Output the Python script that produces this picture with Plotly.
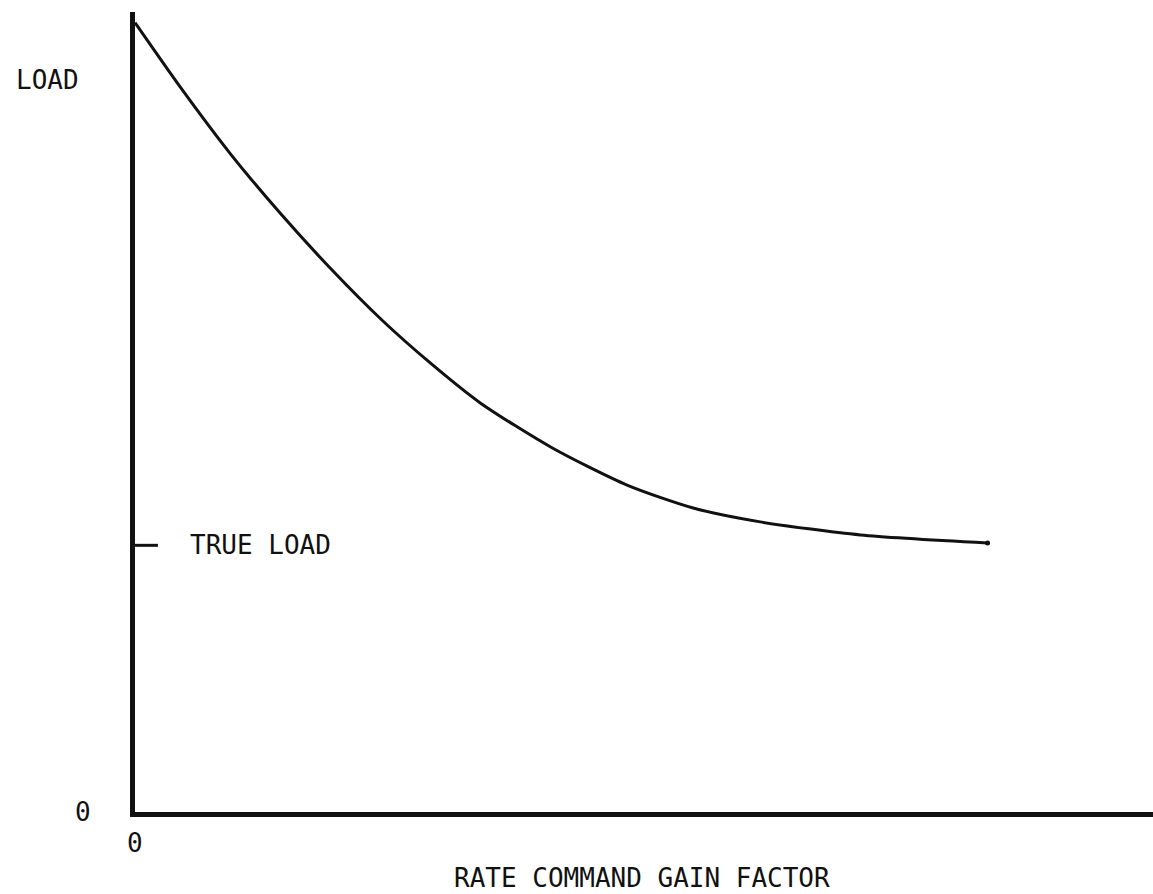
import plotly.graph_objects as go

# Load vs. rate command gain factor (normalised: true load = 1.0)
gain = [0.0, 0.053, 0.112, 0.171, 0.23, 0.291, 0.348, 0.407, 0.492, 0.58, 0.658, 0.737, 0.855, 1.005]
load = [2.96, 2.72, 2.47, 2.246, 2.04, 1.845, 1.684, 1.534, 1.365, 1.226, 1.14, 1.088, 1.039, 1.009]
true_load = 1.0

FONT = "DejaVu Sans Mono"
INK = "#111111"

fig = go.Figure()
fig.add_trace(go.Scatter(
    x=gain, y=load, mode="lines",
    line=dict(color=INK, width=3, shape="spline", smoothing=0.7),
    hoverinfo="skip", showlegend=False,
))
fig.add_trace(go.Scatter(
    x=[gain[-1]], y=[load[-1]], mode="markers",
    marker=dict(color=INK, size=5), hoverinfo="skip", showlegend=False,
))

# short tick on the load axis marking the true load
fig.add_shape(type="line", xref="x", yref="y", x0=0, x1=0.027,
              y0=true_load, y1=true_load, line=dict(color=INK, width=3))

ann = dict(showarrow=False, font=dict(family=FONT, size=26, color=INK))
fig.add_annotation(text="LOAD", xref="paper", yref="paper", x=-0.119, y=0.915,
                   xanchor="left", yanchor="middle", **ann)
fig.add_annotation(text="TRUE LOAD", xref="x", yref="y", x=0.062, y=true_load,
                   xanchor="left", yanchor="middle", **ann)
fig.add_annotation(text="0", xref="paper", yref="y", x=-0.051, y=0,
                   xanchor="center", yanchor="middle", **ann)
fig.add_annotation(text="0", xref="x", yref="paper", x=0, y=-0.039,
                   xanchor="center", yanchor="middle", **ann)
fig.add_annotation(text="RATE COMMAND GAIN FACTOR", xref="paper", yref="paper",
                   x=0.498, y=-0.082, xanchor="center", yanchor="middle", **ann)

fig.update_xaxes(range=[0, 1.2], showgrid=False, zeroline=False, showticklabels=False,
                 showline=True, linecolor=INK, linewidth=5, ticks="")
fig.update_yaxes(range=[0, 3.0], showgrid=False, zeroline=False, showticklabels=False,
                 showline=True, linecolor=INK, linewidth=5, ticks="")

fig.update_layout(
    width=1153, height=894,
    margin=dict(l=135, r=0, t=12, b=82),
    paper_bgcolor="white", plot_bgcolor="white",
    font=dict(family=FONT, color=INK),
)

fig.write_html("out.html")
